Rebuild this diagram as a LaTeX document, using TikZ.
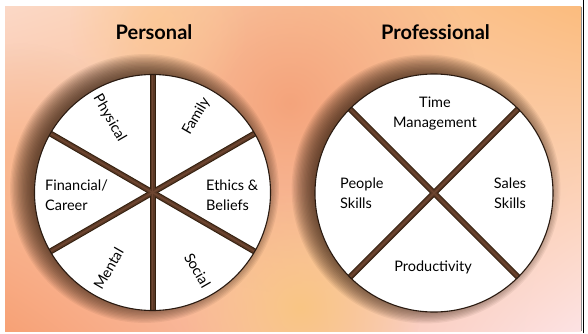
\documentclass[tikz,border=0pt]{standalone}
\usepackage{fontspec}
\setmainfont{Lato}
\usetikzlibrary{fadings,shadings}
\tikzfading[name=glowfade, inner color=transparent!0, outer color=transparent!100]
\definecolor{bgUL}{HTML}{FBD8C6}
\definecolor{bgUR}{HTML}{FBBC7E}
\definecolor{bgLL}{HTML}{F7A175}
\definecolor{bgLR}{HTML}{FCE2E3}
\definecolor{glowOr}{HTML}{F4A077}
\definecolor{glowYe}{HTML}{F9C684}
\definecolor{glowLt}{HTML}{FCC894}
\definecolor{glowLeft}{HTML}{F9B488}
\definecolor{shadowcol}{HTML}{3A2212}
\definecolor{rimcol}{HTML}{2A1A10}
\definecolor{bardark}{HTML}{33200F}
\definecolor{barmid}{HTML}{5A3825}
\definecolor{barlight}{HTML}{6E4631}
\tikzset{
  wheel/.style={circle, inner sep=0pt, minimum size=#1, fill=white},
  rim/.style={draw=rimcol, line width=1.1pt},
  bar/.style={line width=6pt, draw=bardark},
  barin/.style={line width=4pt, draw=barmid},
  barcore/.style={line width=1.4pt, draw=barlight},
  label/.style={font=\fontsize{14.5}{20}\selectfont, inner sep=0pt, text=black},
  title/.style={font=\fontsize{20}{22}\selectfont\bfseries, inner sep=0pt, text=black},
}
\begin{document}
\begin{tikzpicture}[x=1pt,y=1pt]
\useasboundingbox (0,0) rectangle (588,333);
% background
\fill[white] (0,0) rectangle (588,333);
\shade[upper left=bgUL, upper right=bgUR, lower left=bgLL, lower right=bgLR] (5,2) rectangle (581,326);
\begin{scope}
\clip (5,2) rectangle (581,326);
\fill[glowLeft, path fading=glowfade, opacity=0.7] (20,170) circle (120pt);
\fill[glowOr, path fading=glowfade, opacity=0.9] (290,230) circle (190pt);
\fill[glowYe, path fading=glowfade] (300,25) circle (120pt);
\fill[glowLt, path fading=glowfade, opacity=0.8] (160,310) circle (90pt);
\end{scope}
\draw[black!45, line width=0.6pt] (581,2) -- (581,326);
\draw[black, line width=1.4pt] (583.5,0) -- (583.5,333);
% titles
\node[title] (tpers) at (154,301) {Personal};
\node[title] (tprof) at (435.5,301) {Professional};
% wheel shadows
\coordinate (lc) at (152.5,140.5);
\coordinate (rc) at (434,140);
\foreach \c in {lc,rc}{
  \foreach \i in {1,...,18}{
    \fill[shadowcol, opacity=0.065] ([shift={(-8,4)}]\c) circle (111pt+\i*1.3pt);
  }
}
\node[wheel=236pt] (pw) at (lc) {};
\node[wheel=238pt] (fw) at (rc) {};
\begin{scope}
\clip (lc) circle (118pt);
\foreach \s in {bar,barin,barcore}{
  \draw[\s] (pw.90) -- (pw.270);
  \draw[\s] (pw.30) -- (pw.210);
  \draw[\s] (pw.150) -- (pw.330);
}
\end{scope}
\begin{scope}
\clip (rc) circle (119pt);
\foreach \s in {bar,barin,barcore}{
  \draw[\s] (fw.45) -- (fw.225);
  \draw[\s] (fw.135) -- (fw.315);
}
\end{scope}
\draw[rim] (lc) circle (118pt);
\draw[rim] (rc) circle (119pt);
% left labels
\node[label, rotate=-60] (phys) at ([shift={(120:86)}]lc) {Physical};
\node[label, rotate=60] (fam) at ([shift={(60:88)}]lc) {Family};
\node[label, rotate=60] (ment) at ([shift={(240:88)}]lc) {Mental};
\node[label, rotate=-60] (soc) at ([shift={(300:90)}]lc) {Social};
\node[label, align=left, anchor=west] (fin) at (45,138) {Financial/\\Career};
\node[label, align=left, anchor=west] (eth) at (206,138) {Ethics \&\\Beliefs};
% right labels
\node[label, align=center] (time) at (435,219) {Time\\Management};
\node[label, align=left, anchor=west] (peop) at (340,140) {People\\Skills};
\node[label, align=center] (sale) at (510,140) {Sales\\Skills};
\node[label] (prod) at (433,66) {Productivity};
\end{tikzpicture}
\end{document}
